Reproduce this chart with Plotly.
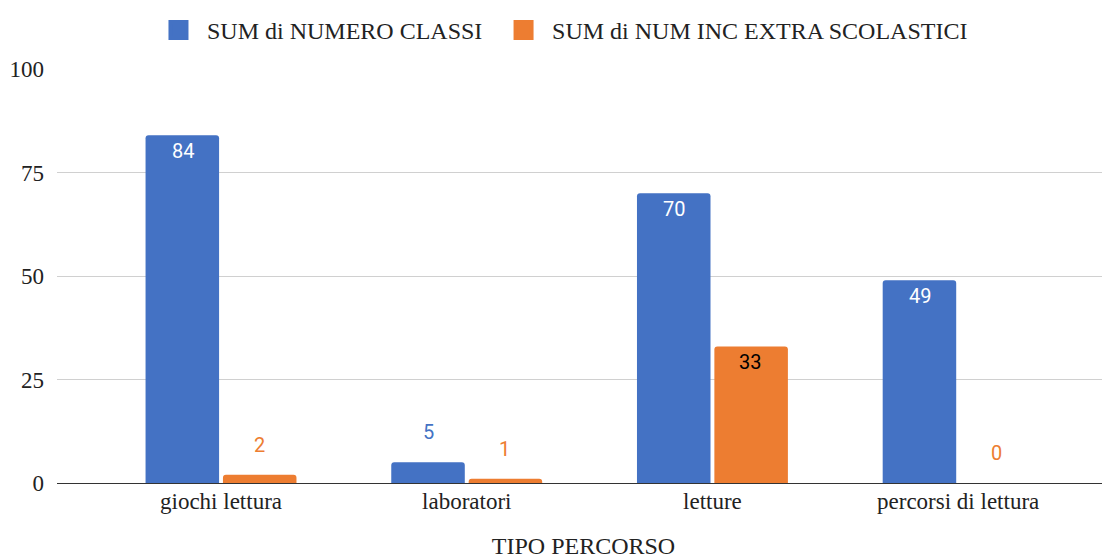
import plotly.graph_objects as go

categories = ["giochi lettura", "laboratori", "letture", "percorsi di lettura"]
numero_classi = [84, 5, 70, 49]
num_inc_extra = [2, 1, 33, 0]
series_names = ["SUM di NUMERO CLASSI", "SUM di NUM INC EXTRA SCOLASTICI"]
y_ticks = [0, 25, 50, 75, 100]
x_title = "TIPO PERCORSO"

colors = ["#4472C4", "#ED7D31"]
inside_text_colors = ["#FFFFFF", "#000000"]
legend_ids = ["legend", "legend2"]

fig = go.Figure()
for name, vals, col in zip(series_names, [numero_classi, num_inc_extra], colors):
    fig.add_trace(go.Bar(
        x=categories, y=vals, name=name, showlegend=False,
        marker=dict(color=col, cornerradius=3, line=dict(width=0)),
        hoverinfo="x+y",
    ))
# legend entries with larger square swatches
for name, col, lg in zip(series_names, colors, legend_ids):
    fig.add_trace(go.Scatter(
        x=[None], y=[None], mode="markers", name=name, legend=lg,
        marker=dict(symbol="square", size=16, color=col, line=dict(color=col, width=4)),
        showlegend=True,
    ))

SERIF = "Liberation Serif, Times New Roman, serif"
SANS = "Roboto, Arial, sans-serif"

annotations = []
offsets = [-38, 38]
for si, vals in enumerate([numero_classi, num_inc_extra]):
    for cat, v in zip(categories, vals):
        inside = v >= 10
        annotations.append(dict(
            x=cat, y=v, xref="x", yref="y", text=str(v), showarrow=False,
            xshift=offsets[si], yshift=-16 if inside else 30,
            font=dict(family=SANS, size=20,
                      color=(inside_text_colors[0] if (inside and si == 0) else
                             inside_text_colors[1] if inside else colors[si])),
            xanchor="center", yanchor="middle",
        ))

legend_style = dict(orientation="h", xanchor="left", y=1.093, yanchor="middle",
                    font=dict(family=SERIF, size=24, color="#222222"),
                    itemsizing="trace", itemwidth=47, bgcolor="rgba(0,0,0,0)")

# page body has an 8px margin; compensate so the plot sits where the reference does
fig.update_layout(
    width=1102, height=551,
    margin=dict(l=49, r=0, t=55, b=76),
    paper_bgcolor="white", plot_bgcolor="white",
    barmode="group", bargap=0.37, bargroupgap=0.05,
    showlegend=True,
    legend=dict(x=0.0883, **legend_style),
    legend2=dict(x=0.416, **legend_style),
    xaxis=dict(
        type="category", range=[-0.6675, 3.618],
        showgrid=False, showline=False, zeroline=False, ticks="",
        tickfont=dict(family=SERIF, size=23, color="#222222"),
        title=dict(text=x_title, font=dict(family=SERIF, size=24, color="#222222"), standoff=24),
        ticklabelstandoff=2,
    ),
    yaxis=dict(
        range=[0, 100], tickvals=y_ticks, ticktext=[str(t) for t in y_ticks],
        showgrid=True, gridcolor="#d0d0d0", gridwidth=1,
        zeroline=True, zerolinecolor="#333333", zerolinewidth=1,
        showline=False, ticks="",
        tickfont=dict(family=SERIF, size=23, color="#222222"),
        ticklabelstandoff=12,
    ),
    annotations=annotations,
)

fig.write_html("out.html")
